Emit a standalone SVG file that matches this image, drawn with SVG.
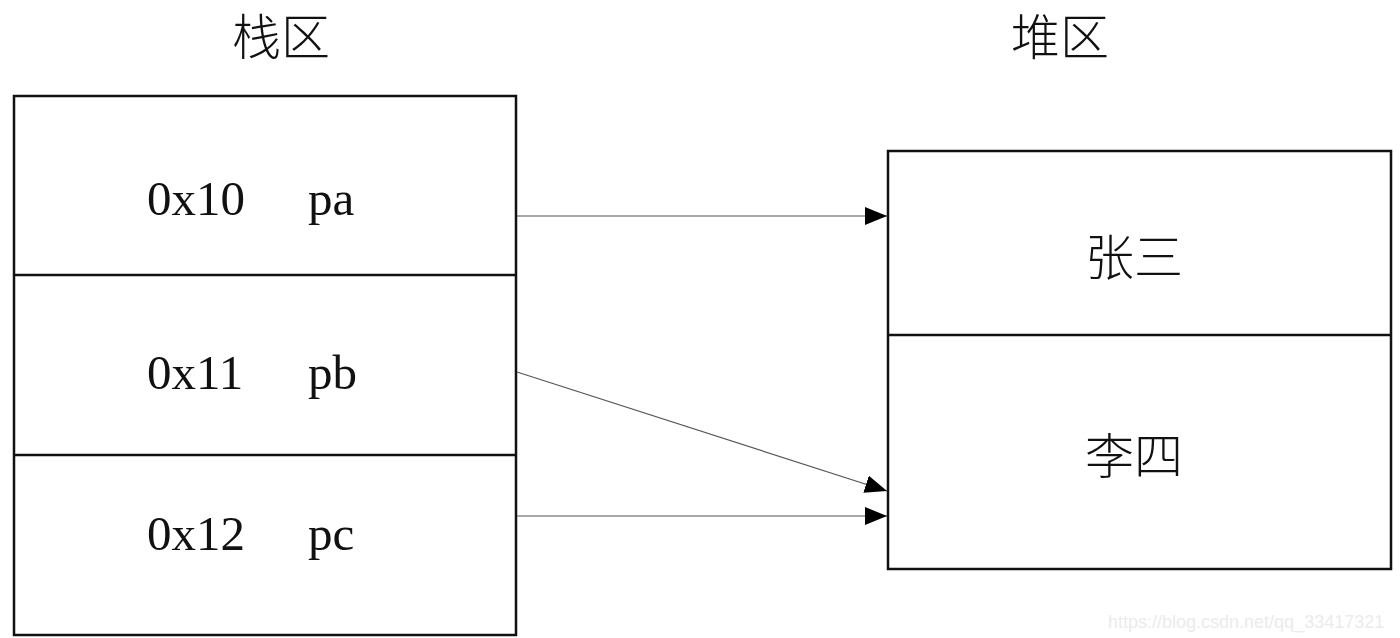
<svg xmlns="http://www.w3.org/2000/svg" width="1400" height="638" viewBox="0 0 1400 638">
<style>
.box{fill:none;stroke:#111;stroke-width:2.5}
.div{stroke:#111;stroke-width:2.5}
.lat{font-family:"Liberation Serif","Times New Roman",serif;font-size:49px;fill:#111}
.cjk{font-family:"Noto Sans CJK SC","Noto Sans CJK JP",sans-serif;font-size:49px;fill:#111;font-weight:300}
.conn{stroke:#555;stroke-width:1.2;fill:none}
.wm{font-family:"Liberation Sans",Arial,sans-serif;font-size:18px;fill:#ebebeb}
</style>
<defs>
<marker id="arr" viewBox="0 0 22 18" refX="22" refY="9" markerWidth="22" markerHeight="18" markerUnits="userSpaceOnUse" orient="auto">
<path d="M0,0 L22,9 L0,18 Z" fill="#000"/>
</marker>
</defs>
<rect width="1400" height="638" fill="#fff"/>
<g id="title-stack"><text class="cjk" x="281" y="55" text-anchor="middle">栈区</text></g>
<g id="title-heap"><text class="cjk" x="1060" y="55" text-anchor="middle">堆区</text></g>
<g id="stack">
<rect class="box" x="14" y="96" width="502" height="539"/>
<line class="div" x1="14" y1="275" x2="516" y2="275"/>
<line class="div" x1="14" y1="455" x2="516" y2="455"/>
</g>
<g id="pa"><text class="lat" x="147" y="215">0x10</text><text class="lat" x="308" y="215">pa</text></g>
<g id="pb"><text class="lat" x="147" y="389">0x11</text><text class="lat" x="308" y="389">pb</text></g>
<g id="pc"><text class="lat" x="147" y="550">0x12</text><text class="lat" x="308" y="550">pc</text></g>
<g id="heap">
<rect class="box" x="888" y="151" width="503" height="418"/>
<line class="div" x1="888" y1="335" x2="1391" y2="335"/>
</g>
<g id="zhangsan"><text class="cjk" x="1134" y="275" text-anchor="middle">张三</text></g>
<g id="lisi"><text class="cjk" x="1134" y="474" text-anchor="middle">李四</text></g>
<g id="connectors">
<line class="conn" x1="517" y1="216" x2="887" y2="216" marker-end="url(#arr)"/>
<line class="conn" x1="517" y1="372" x2="887" y2="491" marker-end="url(#arr)"/>
<line class="conn" x1="517" y1="516" x2="887" y2="516" marker-end="url(#arr)"/>
</g>
<text class="wm" x="1108" y="628">https://blog.csdn.net/qq_33417321</text>
</svg>
